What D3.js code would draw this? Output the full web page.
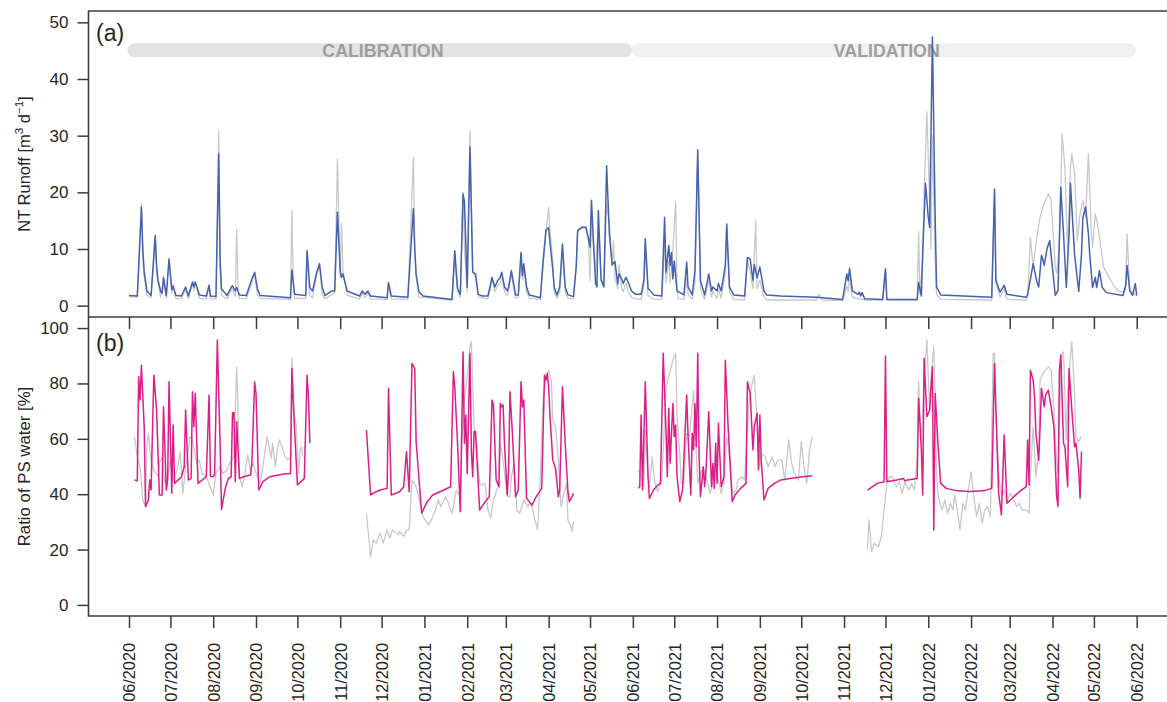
<!DOCTYPE html>
<html>
<head>
<meta charset="utf-8">
<script src="https://cdn.jsdelivr.net/npm/d3@7"></script>
<style>
  html, body { margin: 0; padding: 0; background: #fff; }
  svg { display: block; font-family: "Liberation Sans", Arial, Helvetica, sans-serif; }
</style>
</head>
<body>
<svg id="chart" width="1167" height="702"></svg>
<script>
// Records are daily; each pair is [days since 1 June 2020, value].
const recordStart = Date.UTC(2020, 5, 1);
const recordEnd = Date.UTC(2022, 5, 1);

// Modelling periods (day offsets)
const periodNames = ["CALIBRATION", "VALIDATION"];
const periodBounds = [[0, 365], [365, 730]];

// Tick values
const runoffTicks = [0, 10, 20, 30, 40, 50];
const ratioTicks = [0, 20, 40, 60, 80, 100];

// (a) NT runoff, observed [m3 d-1]
const runoffObs = [
  [0,1.6],[6,1.5],[7,6],[9,18.0],[10,9],[11,5],[13,1.8],[16,1.4],[19,12.0],[20,6],[21,4],[23,1.5],[25,4.5],[27,1.4],[29,8.5],[31,2.2],[32,3.2],[34,1.3],[38,1.2],[41,3.0],[43,1.2],[46,4.0],[47,2.6],[48,4.0],[51,1.3],[56,1.2],[58,3.4],[59,1.2],[63,1.2],[65,30.9],[66,6],[67,1.8],[71,1.2],[74,2.6],[75,3.0],[77,1.6],[78,13.5],[79,3],[80,1.3],[85,1.2],[89,4],[91,5.6],[93,2],[95,1.3],
  [117,1.1],[118,16.8],[119,4],[120,1.4],[128,1.2],[129,9.2],[130,4],[131,1.8],[133,1.4],[136,5.5],[138,7.0],[140,2],[142,1.2],[147,2],[149,2.3],[151,25.9],[153,5],[154,14.5],[155,6],[158,1.8],[167,1.2],[169,2.2],[171,1.4],[173,2.2],[175,1.2],[187,1.1],[188,3.8],[190,1.2],[202,1.1],[206,26.2],[207,10],[208,5],[210,1.5],
  [234,1.0],[236,8],[238,2.6],[240,1.4],[242,20.0],[243,10],[245,2.5],[247,30.9],[249,6],[251,5],[253,1.5],[260,1.2],[263,4.5],[265,2.5],[267,3.5],[269,4],[270,5.0],[272,2.5],[274,1.8],[275,2.6],[277,5.5],[280,1.4],[282,1.4],[284,8.5],[285,4.5],[286,6.5],[288,2.5],[290,1.3],[298,1.1],[300,7],[302,12.5],[304,17.4],[305,13],[307,8],[308,2.4],[310,1.3],[312,2.5],[314,9.5],[316,2.5],[318,1.3],
  [322,1.2],[324,7],[325,13.5],[328,14.0],[331,14.0],[333,11],[334,4.4],[335,14.6],[338,6],[339,11],[340,12.5],[342,5],[344,3.5],[346,18],[348,14.6],[350,7],[351,11.5],[352,5],[354,3],[355,7.2],[357,3],[358,2.5],[360,4],[362,2.2],[364,1.5],[367,1.2],[371,1.1],[373,3.5],[374,10.5],[376,1.8],[380,1.1],[386,1.1],[388,12],[389,4],[391,8],[392,4],[394,10],[396,18.3],[397,3],[398,1.2],
  [402,1.1],[404,5],[405,2],[408,1.1],[410,4],[412,27.0],[414,3],[417,1.1],[420,4.5],[422,1.5],[423,2.5],[426,1.3],[427,3],[429,1.3],[432,6],[433,14.0],[435,2.5],[438,1.1],[446,1.0],[448,8],[450,6],[452,3],[454,15.0],[455,3],[457,4.5],[460,1.5],[462,1.0],[472,1.0],[498,1.0],[500,2.0],[502,1.0],[517,0.9],[520,3.5],[521,2.5],[522,5],[524,1.5],[528,1.2],[530,1.2],[533,1.0],[546,1.0],[548,6.2],[549,1.0],
  [571,1.0],[572,13.0],[573,2],[575,8],[576,20],[578,34.2],[581,10.0],[582,30],[584,8],[585,2],[588,1.1],[625,1.0],[627,20.0],[628,4],[631,1.5],[634,3],[636,1.1],[650,1.0],[651,1.5],[653,12.0],[655,6.8],[658,12.7],[660,15.6],[662,17.4],[666,19.7],[668,18.6],[671,6.8],[672,5.7],[674,10.8],[676,30.3],[678,24.4],[680,9.4],[682,24.4],[683,26.8],[685,23.3],[687,11.5],[689,16.2],[691,18.6],[693,15.6],[695,26.8],[697,13.9],[698,10.3],[700,16.2],[702,13.9],[706,6.8],[711,4.5],[714,3.3],[718,2.4],[722,2.7],[723,12.7],[725,2.7],[730,1.8]
];

// (a) NT runoff, simulated [m3 d-1]
const runoffSim = [
  [0,1.8],[6,1.7],[7,6.8],[9,17.4],[10,10],[11,6],[13,2.6],[16,1.8],[19,12.4],[20,7],[21,4.5],[23,2.5],[24,2.2],[25,5.0],[27,1.8],[29,8.2],[31,2.8],[32,3.5],[34,1.8],[38,1.7],[41,3.3],[43,1.7],[46,4.2],[47,3.3],[48,4.2],[51,1.9],[56,1.7],[58,3.6],[59,1.7],[63,1.6],[65,26.8],[66,8],[67,3],[71,1.8],[74,3.2],[75,3.5],[77,2.6],[78,3.2],[80,1.9],[85,1.8],[89,4.7],[91,5.9],[93,3],[95,1.8],
  [117,1.4],[118,6.3],[120,2.0],[128,1.8],[129,9.7],[131,3.2],[133,2.6],[136,5.9],[138,7.4],[140,3.2],[142,1.8],[147,2.6],[149,2.6],[151,16.5],[153,6.2],[154,5.0],[155,5.6],[158,2.6],[167,1.7],[169,2.6],[171,2.0],[173,2.6],[175,1.7],[187,1.4],[188,4.1],[190,1.7],[202,1.5],[206,17.1],[207,10],[208,5.5],[210,2.5],[213,1.7],
  [234,1.1],[236,9.7],[238,3],[240,2.0],[242,19.7],[243,18.4],[245,3.2],[247,28.0],[249,5.9],[251,5.6],[253,2.0],[256,1.7],[260,1.7],[263,5.0],[265,3.3],[267,4.4],[269,5.0],[270,5.9],[272,3.3],[274,2.6],[275,3.3],[277,6.2],[280,1.9],[282,1.9],[284,9.4],[285,5.3],[286,7.4],[288,3.3],[290,1.9],[298,1.4],[300,7.9],[302,13.3],[304,13.8],[305,11.1],[307,6.3],[308,3.3],[310,1.9],[312,3.3],[314,10.9],[316,3.3],[318,1.9],
  [322,1.6],[324,7.0],[325,13.2],[328,13.8],[331,13.8],[333,11.7],[334,10.3],[335,18.6],[338,3.9],[339,3.3],[340,16.8],[342,4.5],[344,3.3],[346,24.7],[348,12.6],[350,7.2],[351,7.5],[352,7.8],[354,3.9],[355,5.6],[357,4.7],[358,3.9],[360,5.0],[362,3.9],[364,2.6],[367,2.0],[371,2.0],[373,4.5],[374,11.8],[376,3.1],[380,1.9],[386,1.7],[388,15.6],[389,5.9],[391,10.6],[392,7.1],[393,9.4],[394,4.7],[395,7.9],[397,2.6],
  [402,1.9],[404,7.7],[405,3.3],[408,1.9],[410,6.2],[412,27.5],[414,4.4],[417,1.9],[420,5.6],[422,2.6],[423,3.3],[426,2.6],[427,3.9],[429,2.6],[432,7.1],[433,14.4],[435,3.3],[438,1.9],[446,1.7],[448,8.5],[450,8.2],[452,4.5],[453,7.2],[455,4.9],[457,6.8],[460,2.6],[462,1.9],[472,1.7],[498,1.5],[517,1.1],[520,5.6],[521,4.4],[522,6.6],[524,2.6],[528,2.0],[529,2.4],[530,1.7],[531,2.3],[533,1.2],[546,1.1],[548,6.5],[549,1.1],
  [571,1.1],[572,4.1],[574,1.7],[575,9.7],[577,21.6],[579,15.6],[580,13.8],[581,30.6],[582,47.4],[584,15.6],[585,3.3],[588,1.9],[625,1.5],[627,20.6],[628,4.5],[631,2.4],[634,3.6],[636,2.0],[650,1.5],[651,2.0],[653,4.7],[655,7.4],[656,6.2],[658,3.9],[659,3.3],[661,8.9],[662,8.2],[663,7.1],[665,10.0],[667,11.5],[668,9.0],[671,1.8],[673,2.7],[675,20.9],[677,12.6],[679,3.2],[681,12.6],[682,21.6],[685,9.0],[688,2.5],[690,9.0],[691,15.6],[693,17.4],[694,15.0],[695,12.7],[696,9.0],[698,3.2],[700,5.0],[701,3.2],[703,6.2],[705,3.2],[708,2.3],[720,1.8],[722,3.6],[723,7.1],[725,2.6],[727,1.8],[729,3.9],[730,1.8]
];

// (b) Ratio of PS water, observed [%]; null marks a gap in the record
const ratioObs = [
  [4,60.8],[6,53.5],[8,49.9],[10,37.9],[12,35.5],[13,58.4],[14,62.0],[16,52.3],[18,48.7],[21,46.3],[22,51.2],[24,53.5],[26,43.9],[28,46.3],[30,52.3],[32,45.1],[35,48.7],[37,55.4],[39,40.3],[41,49.9],[43,56.0],[44,60.8],[46,59.6],[48,53.5],[49,51.2],[51,52.3],[53,47.5],[55,46.9],[57,45.1],[61,39.7],[63,47.5],[66,49.9],[68,47.5],[71,48.7],[73,51.2],[76,53.5],[78,86.0],[79,70.4],[80,46.3],[82,42.7],[84,47.5],[86,54.2],[88,48.7],[90,51.2],[93,46.3],[95,43.9],[97,49.9],[100,60.8],[101,58.4],[103,53.0],[104,58.4],[106,49.9],[107,54.8],[109,59.6],[111,57.1],[113,53.5],[115,52.3],[117,53.5],[118,89.1],[120,68.0],[121,65.6],[123,47.5],[124,56.0],[125,57.1],[126,53.5],
  [150,null],
  [172,33.1],[175,17.4],[177,23.5],[179,22.3],[182,25.9],[184,22.3],[187,27.1],[189,24.1],[191,27.1],[195,25.3],[196,26.5],[199,24.7],[201,27.1],[203,27.1],[205,45.1],[208,42.7],[211,36.7],[213,31.9],[217,28.9],[219,30.7],[222,34.3],[224,37.9],[226,35.5],[229,39.1],[231,37.3],[234,33.1],[235,35.5],[237,41.5],[240,39.1],[242,70.4],[245,82.4],[247,93.2],[248,95.1],[250,64.4],[252,58.4],[254,43.9],[256,43.3],[258,43.9],[260,34.3],[262,31.3],[264,37.9],[266,40.9],[268,43.9],[269,58.4],[271,52.3],[274,39.1],[276,39.1],[277,46.3],[279,51.2],[281,34.3],[283,33.1],[286,37.9],[289,35.5],[290,36.7],[292,35.5],[294,30.7],[296,27.1],[298,46.3],[300,75.2],[303,83.6],[304,84.8],[306,80.6],[307,66.8],[309,64.4],[311,52.3],[313,35.5],[315,40.3],[317,43.9],[318,30.7],[320,28.3],[321,26.5],[322,30.1],
  [345,null],
  [369,48.7],[371,46.3],[373,42.7],[374,63.2],[376,46.3],[377,42.7],[379,53.5],[381,43.9],[383,40.9],[386,45.1],[388,66.8],[389,78.8],[391,82.4],[394,88.4],[396,90.9],[397,68.0],[399,54.8],[400,43.9],[402,43.9],[404,62.0],[406,60.8],[409,77.6],[410,64.4],[412,43.9],[414,47.5],[416,49.9],[418,46.3],[421,40.3],[423,43.9],[425,48.7],[427,45.1],[429,40.3],[431,43.9],[433,60.8],[435,53.5],[437,40.3],[440,41.5],[441,45.1],[444,46.3],[446,45.1],[449,72.8],[451,78.8],[453,83.0],[455,66.8],[457,49.9],[458,54.8],[461,53.5],[463,49.9],[466,53.5],[468,49.9],[470,52.3],[473,52.3],[475,45.1],[478,59.6],[480,51.2],[482,47.5],[485,45.1],[487,59.0],[489,49.9],[491,43.9],[493,56.0],[495,60.8],
  [515,null],
  [535,19.9],[536,30.7],[538,19.2],[540,22.3],[543,21.1],[545,24.7],[547,34.3],[549,43.9],[551,46.3],[553,46.3],[556,42.7],[558,44.5],[560,40.3],[562,44.5],[565,41.5],[567,43.9],[569,41.5],[571,53.5],[572,80.6],[574,58.4],[576,82.4],[578,95.7],[580,70.4],[581,82.4],[583,93.2],[584,76.4],[585,47.5],[586,40.3],[588,35.5],[589,34.3],[591,37.9],[593,33.1],[595,36.7],[597,34.3],[598,39.7],[600,34.3],[602,27.1],[604,36.7],[606,34.3],[608,41.5],[610,48.1],[612,39.1],[614,31.9],[616,36.7],[618,29.5],[620,34.3],[622,35.5],[624,31.9],[626,90.9],[627,90.9],[628,70.4],[630,47.5],[632,39.1],[634,41.5],[636,36.7],[638,40.3],[640,39.1],[643,35.5],[645,36.7],[647,34.3],[650,34.3],[652,33.1],[653,46.3],[655,64.4],[657,46.3],[659,56.0],[660,81.2],[662,83.6],[664,84.8],[666,86.0],[668,84.8],[670,70.4],[672,52.3],[673,47.5],[675,82.4],[676,90.9],[677,91.4],[679,59.6],[680,76.4],[682,89.7],[683,95.1],[685,76.4],[686,60.8],[688,59.0],[690,60.8]
];

// (b) Ratio of PS water, simulated [%]; null marks a gap in the record
const ratioSim = [
  [4,45.1],[6,44.8],[7,82.4],[8,74.0],[9,86.6],[11,64.4],[12,35.5],[14,37.9],[15,45.1],[16,41.5],[18,83.0],[20,70.4],[22,39.7],[24,39.7],[25,71.6],[27,41.5],[28,45.1],[29,80.6],[31,40.3],[32,65.0],[33,43.9],[38,46.3],[40,49.9],[41,70.4],[43,45.1],[45,45.7],[46,77.0],[47,64.4],[48,76.4],[50,43.9],[56,46.3],[58,75.8],[59,46.5],[61,46.3],[62,47.0],[64,95.7],[66,58.4],[67,34.5],[70,42.7],[72,45.7],[74,46.3],[75,69.4],[76,69.4],[77,44.5],[78,66.2],[80,45.7],[83,46.3],[88,46.9],[89,51.2],[91,80.6],[92,76.4],[94,41.5],[97,44.5],[102,46.3],[112,47.3],[117,47.5],[118,85.4],[119,72.8],[122,43.3],[127,45.7],[129,83.0],[130,75.2],[131,58.4],
  [150,null],
  [172,63.2],[175,39.7],[179,40.9],[182,41.5],[187,42.1],[188,78.2],[190,39.7],[196,40.9],[199,42.7],[201,55.4],[203,40.9],[205,87.2],[207,85.4],[208,59.0],[212,33.1],[216,37.3],[220,39.7],[228,41.5],[233,42.7],[235,84.2],[236,78.8],[238,58.4],[240,33.7],[242,91.4],[243,58.4],[244,68.6],[245,47.5],[247,90.9],[248,56.0],[249,46.3],[250,62.6],[251,62.6],[254,34.3],[258,37.3],[261,39.1],[263,74.0],[264,72.2],[266,45.1],[268,42.7],[269,72.8],[270,71.6],[271,72.2],[272,58.4],[274,39.7],[275,48.7],[276,77.0],[278,59.6],[280,39.1],[282,41.5],[284,80.6],[285,71.6],[286,74.0],[288,38.5],[292,36.1],[295,39.1],[299,42.1],[301,83.0],[302,81.2],[303,83.6],[304,78.8],[305,68.0],[307,52.3],[309,49.3],[311,39.1],[312,41.5],[314,78.8],[316,58.4],[318,40.9],[319,37.3],[321,39.1],[322,40.3],
  [345,null],
  [369,42.1],[370,42.7],[371,68.6],[372,41.5],[374,80.6],[376,46.3],[377,38.5],[380,41.5],[383,43.3],[385,43.9],[387,90.9],[389,63.2],[390,46.3],[391,71.0],[392,51.2],[394,72.8],[395,60.8],[396,65.0],[397,46.3],[399,37.3],[401,41.5],[404,75.8],[405,60.8],[407,39.7],[408,62.0],[409,56.0],[410,72.8],[411,57.1],[412,90.9],[413,53.5],[414,39.1],[416,49.9],[417,42.7],[418,48.7],[420,69.8],[422,42.7],[423,51.2],[424,42.1],[425,58.4],[426,43.9],[427,65.6],[429,42.7],[431,46.3],[432,88.4],[434,64.4],[437,37.3],[439,39.7],[443,42.1],[447,43.9],[448,80.6],[450,76.4],[452,56.0],[453,64.4],[455,69.2],[456,48.7],[457,68.6],[458,52.3],[460,37.9],[463,42.1],[468,44.1],[472,45.1],[479,45.7],[488,46.3],[495,46.7],
  [515,null],
  [535,41.5],[542,43.9],[547,44.5],[548,89.9],[549,44.5],[556,45.1],[561,45.7],[562,44.8],[564,45.1],[571,45.7],[572,74.6],[574,56.0],[575,39.7],[576,89.1],[578,68.0],[580,70.4],[582,86.0],[583,27.1],[584,76.4],[586,58.4],[588,43.9],[592,42.1],[600,41.2],[609,41.0],[619,41.2],[625,42.1],[627,87.2],[628,70.4],[630,40.3],[632,32.5],[634,61.4],[636,36.7],[641,39.1],[645,40.9],[650,42.7],[651,59.6],[652,43.3],[653,84.8],[655,81.2],[656,75.2],[657,62.0],[659,52.3],[660,64.4],[661,78.2],[663,71.6],[664,75.8],[666,77.6],[668,71.6],[670,64.4],[672,39.1],[673,35.5],[674,84.8],[675,90.3],[677,58.4],[678,57.1],[680,42.7],[681,85.4],[683,70.4],[685,57.1],[686,58.4],[688,48.7],[689,38.5],[690,55.4]
];

// ---------------------------------------------------------------------------
const svg = d3.select("#chart");
const axisColor = "#3c3c3c";
const textColor = "#262626";

const frame = { left: 88.5, right: 1172, topA: 11, mid: 317, bottomB: 616 };

const toDate = d => d3.utcDay.offset(new Date(recordStart), d);

const x = d3.scaleUtc()
  .domain([new Date(recordStart), new Date(recordEnd)])
  .range([129, 1136.7]);

const yRunoff = d3.scaleLinear().domain([-2, 52]).range([frame.mid, frame.topA]);
const yRatio = d3.scaleLinear().domain([-4, 104]).range([frame.bottomB, frame.mid]);

const monthTicks = d3.utcMonth.range(new Date(recordStart), d3.utcDay.offset(new Date(recordEnd), 1));
const fmtMonth = d3.utcFormat("%m/%Y");

// Period bands behind panel (a)
const bandY = 50.3, bandH = 14;
const bandFills = ["#e3e3e3", "#f0f0f0"];
const bands = svg.append("g");
[1, 0].forEach(i => {
  const [a, b] = periodBounds[i];
  bands.append("rect")
    .attr("x", x(toDate(a)) - 1.5)
    .attr("y", bandY - bandH / 2)
    .attr("width", x(toDate(b)) - x(toDate(a)) + 0.5)
    .attr("height", bandH)
    .attr("rx", bandH / 2)
    .attr("fill", bandFills[i]);
});
periodNames.forEach((name, i) => {
  const [a, b] = periodBounds[i];
  bands.append("text")
    .attr("x", (x(toDate(a)) + x(toDate(b))) / 2 + 2)
    .attr("y", bandY + 6.6)
    .attr("text-anchor", "middle")
    .attr("font-size", 17.8)
    .attr("font-weight", "bold")
    .attr("fill", "#9e9e9e")
    .text(name);
});

// Series
const line = (yScale) => d3.line()
  .defined(d => d[1] !== null)
  .x(d => x(toDate(d[0])))
  .y(d => yScale(d[1]));

const series = svg.append("g").attr("fill", "none").attr("stroke-linejoin", "round");
series.append("path").datum(runoffObs)
  .attr("d", line(yRunoff)).attr("stroke", "#c9c9c9").attr("stroke-width", 1.3);
series.append("path").datum(runoffSim)
  .attr("d", line(yRunoff)).attr("stroke", "#4462ad").attr("stroke-width", 1.5);
series.append("path").datum(ratioObs)
  .attr("d", line(yRatio)).attr("stroke", "#c9c9c9").attr("stroke-width", 1.3);
series.append("path").datum(ratioSim)
  .attr("d", line(yRatio)).attr("stroke", "#dc1f86").attr("stroke-width", 1.5);

// Frames
const frames = svg.append("g").attr("stroke", axisColor).attr("stroke-width", 1.6).attr("fill", "none");
frames.append("path").attr("d",
  `M${frame.right},${frame.topA}H${frame.left}V${frame.bottomB}H${frame.right}M${frame.left},${frame.mid}H${frame.right}`);

// Y axes
function yAxis(scale, ticks) {
  const g = svg.append("g")
    .attr("transform", `translate(${frame.left},0)`)
    .call(d3.axisLeft(scale).tickValues(ticks).tickSize(11).tickPadding(9).tickFormat(d3.format("d")));
  g.select(".domain").remove();
  g.selectAll(".tick line").attr("stroke", axisColor).attr("stroke-width", 1.5);
  g.selectAll(".tick text")
    .attr("font-size", 17)
    .attr("font-family", "'Liberation Sans', Arial, sans-serif")
    .attr("fill", textColor);
}
yAxis(yRunoff, runoffTicks);
yAxis(yRatio, ratioTicks);

// X ticks below panel (a) and panel (b)
function xAxis(yPos, withLabels) {
  const g = svg.append("g")
    .attr("transform", `translate(0,${yPos})`)
    .call(d3.axisBottom(x).tickValues(monthTicks).tickSize(12).tickFormat(withLabels ? fmtMonth : ""));
  g.select(".domain").remove();
  g.selectAll(".tick line").attr("stroke", axisColor).attr("stroke-width", 1.5);
  if (withLabels) {
    g.selectAll(".tick text")
      .attr("font-size", 16.3)
      .attr("font-family", "'Liberation Sans', Arial, sans-serif")
      .attr("fill", textColor)
      .attr("text-anchor", "end")
      .attr("transform", "rotate(-90)")
      .attr("x", -27)
      .attr("y", 0)
      .attr("dy", "0.36em");
  } else {
    g.selectAll(".tick text").remove();
  }
}
xAxis(frame.mid, false);
xAxis(frame.bottomB, true);

// Panel tags
svg.append("text").attr("x", 96).attr("y", 41).attr("font-size", 23).attr("fill", textColor).text("(a)");
svg.append("text").attr("x", 96).attr("y", 351).attr("font-size", 23).attr("fill", textColor).text("(b)");

// Axis titles
const titleA = svg.append("text")
  .attr("transform", `translate(29.5,${(frame.topA + frame.mid) / 2}) rotate(-90)`)
  .attr("text-anchor", "middle")
  .attr("font-size", 16.5)
  .attr("fill", textColor);
titleA.append("tspan").text("NT Runoff [m");
titleA.append("tspan").attr("font-size", 11.5).attr("dy", -6.5).text("3");
titleA.append("tspan").attr("dy", 6.5).text(" d");
titleA.append("tspan").attr("font-size", 11.5).attr("dy", -6.5).text("\u22121");
titleA.append("tspan").attr("dy", 6.5).text("]");

svg.append("text")
  .attr("transform", `translate(29.5,${(frame.mid + frame.bottomB) / 2}) rotate(-90)`)
  .attr("text-anchor", "middle")
  .attr("font-size", 16.8)
  .attr("fill", textColor)
  .text("Ratio of PS water [%]");
</script>
</body>
</html>
